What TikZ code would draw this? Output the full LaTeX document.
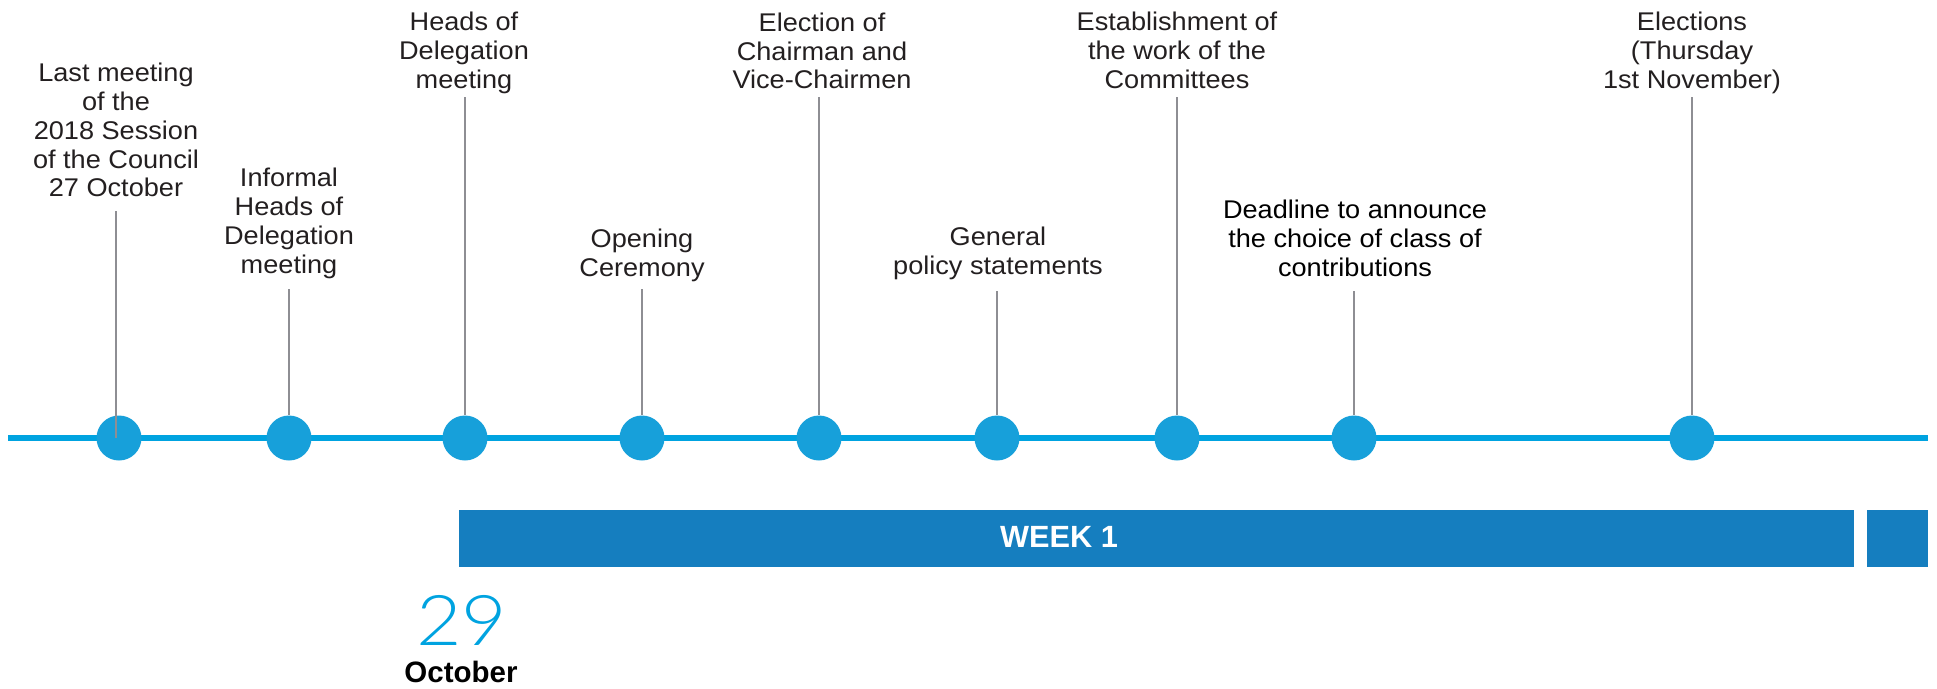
\documentclass[tikz,border=0pt]{standalone}
\usepackage{fontspec}
\setmainfont{Liberation Sans}
\newfontfamily\lblfont{Liberation Sans}[FakeStretch=1.06]
\newfontfamily\thinfont{Lato Light}[FakeStretch=1.12]
\definecolor{lineblue}{RGB}{0,163,224}
\definecolor{dotblue}{RGB}{23,160,218}
\definecolor{barblue}{RGB}{21,126,191}
\definecolor{tickgrey}{RGB}{142,142,147}
\definecolor{txt}{RGB}{35,31,32}
\tikzset{
  dot/.style={circle, fill=dotblue, minimum size=45pt, inner sep=0pt},
  lbl/.style={anchor=north, align=center, inner sep=0pt, text=txt,
    font={\lblfont\fontsize{25.6}{28.8}\selectfont}},
  tick/.style={draw=tickgrey, line width=1.5pt},
  bar/.style={fill=barblue, anchor=north west, inner sep=0pt, minimum height=57pt},
  tl/.style={draw=lineblue, line width=6pt}
}
\begin{document}
\begin{tikzpicture}[x=1pt,y=-1pt]
\useasboundingbox (0,0) rectangle (1937,688);
% main line
\coordinate (ls) at (8,438);
\coordinate (le) at (1928,438);
\draw[tl] (ls) -- (le);
% dots
\node[dot] (d1) at (119,438) {};
\node[dot] (d2) at (289,438) {};
\node[dot] (d3) at (465,438) {};
\node[dot] (d4) at (642,438) {};
\node[dot] (d5) at (819,438) {};
\node[dot] (d6) at (997,438) {};
\node[dot] (d7) at (1177,438) {};
\node[dot] (d8) at (1354,438) {};
\node[dot] (d9) at (1692,438) {};
% labels
\node[lbl] (l1) at (116,63) {Last meeting\\of the\\2018 Session\\of the Council\\27 October};
\node[lbl] (l2) at (289,168) {Informal\\Heads of\\Delegation\\meeting};
\node[lbl] (l3) at (464,12) {Heads of\\Delegation\\meeting};
\node[lbl] (l4) at (642,229) {Opening\\Ceremony};
\node[lbl] (l5) at (822,12.5) {Election of\\Chairman and\\Vice-Chairmen};
\node[lbl] (l6) at (998,226.5) {General\\policy statements};
\node[lbl] (l7) at (1177,12) {Establishment of\\the work of the\\Committees};
\node[lbl, text=black] (l8) at (1355,200) {Deadline to announce\\the choice of class of\\contributions};
\node[lbl] (l9) at (1692,12) {Elections\\(Thursday\\1st November)};
% ticks
\coordinate (t1) at (116,211);
\coordinate (t2) at (289,289);
\coordinate (t3) at (465,97);
\coordinate (t4) at (642,289);
\coordinate (t5) at (819,97);
\coordinate (t6) at (997,291);
\coordinate (t7) at (1177,97);
\coordinate (t8) at (1354,291);
\coordinate (t9) at (1692,97);
\draw[tick] (t1) -- (t1 |- d1.center);
\draw[tick] (t2) -- (d2.north);
\draw[tick] (t3) -- (d3.north);
\draw[tick] (t4) -- (d4.north);
\draw[tick] (t5) -- (d5.north);
\draw[tick] (t6) -- (d6.north);
\draw[tick] (t7) -- (d7.north);
\draw[tick] (t8) -- (d8.north);
\draw[tick] (t9) -- (d9.north);
% week bars
\node[bar, minimum width=1395pt] (wk) at (459,510) {};
\node[bar, minimum width=61pt] (wk2) at (1867,510) {};
\node[text=white, font={\bfseries\fontsize{30.7}{36}\selectfont}] (wkl) at (1059,537) {WEEK 1};
% date
\node[anchor=base, text=lineblue, font={\thinfont\fontsize{70}{80}\selectfont}] (day) at (461.5,645) {29};
\node[anchor=base, text=black, font={\bfseries\fontsize{29.5}{34}\selectfont}] (mon) at (461,682) {October};
\end{tikzpicture}
\end{document}
